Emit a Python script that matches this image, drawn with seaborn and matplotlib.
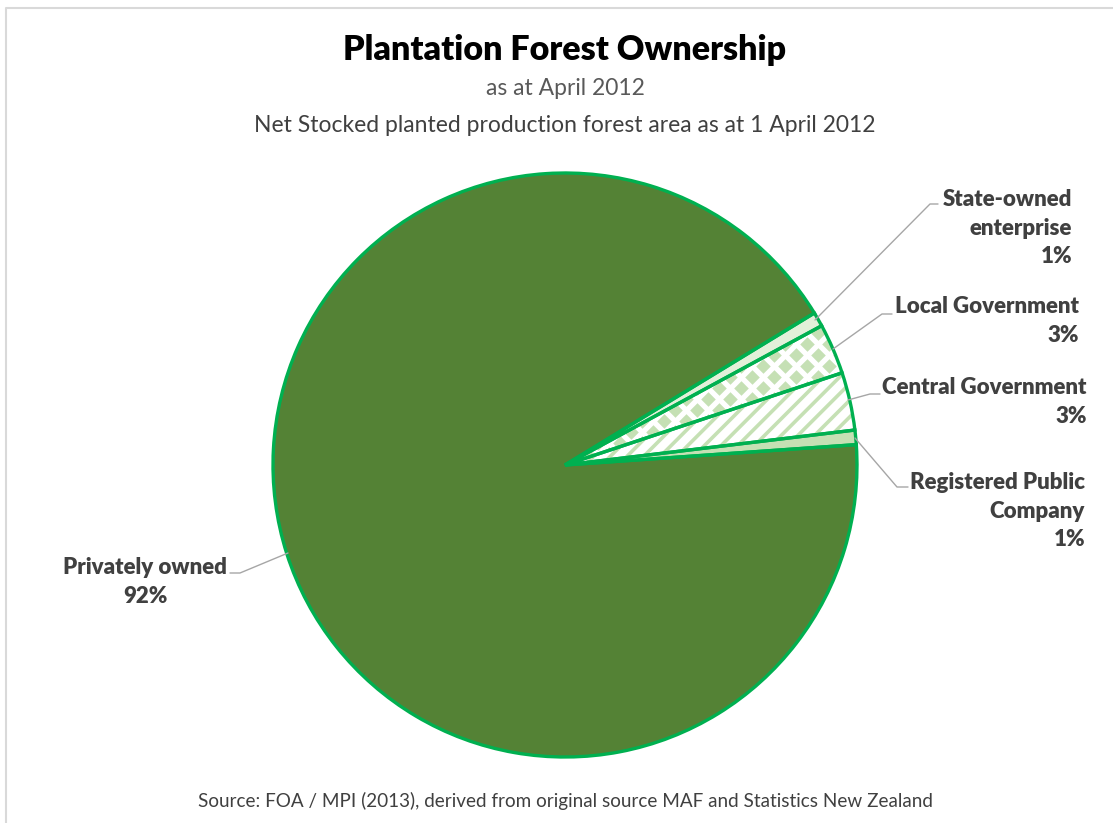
import numpy as np
import seaborn as sns
import matplotlib.pyplot as plt
from matplotlib.patches import Wedge

# Data
categories = ['Privately owned', 'State-owned\nenterprise', 'Local Government',
              'Central Government', 'Registered Public\nCompany']
shares = [92.4, 0.8, 2.8, 3.2, 0.8]

sns.set_style('white')
plt.rcParams['font.family'] = ['Lato', 'DejaVu Sans']
plt.rcParams['hatch.linewidth'] = 2.6

W, H = 1113, 823
fig = plt.figure(figsize=(W / 100, H / 100), dpi=100)
ax = fig.add_axes([0, 0, 1, 1])

# pixel coords (y measured from the top of the image)
def px(x, y):
    return x, H - y

cx, cy = px(565, 465)
R = 292
edge_green = '#00B050'
light = '#C5E0B4'
fills = ['#548235', '#E2F0D9', 'white', 'white', light]

# fills
wedges, _ = ax.pie(shares, colors=fills, startangle=4.0, counterclock=False,
                   center=(cx, cy), radius=R, wedgeprops={'linewidth': 0})

# diamond pattern for Local Government
local = wedges[2]
gx, gy = np.meshgrid(np.arange(cx - 11, cx + R + 22, 22), np.arange(cy - 22, cy + R * 0.6, 22))
gx = np.concatenate([gx.ravel(), gx.ravel() + 11])
gy = np.concatenate([gy.ravel(), gy.ravel() + 11])
dots = ax.scatter(gx, gy, marker='D', s=55, color=light, linewidths=0, zorder=3)
dots.set_clip_path(local)

# diagonal hatch for Central Government
cen = wedges[3]
ax.add_patch(Wedge((cx, cy), R, cen.theta1, cen.theta2, facecolor='none',
                   edgecolor=light, hatch='//', linewidth=0, zorder=3))

# outlines on top
outl, _ = ax.pie(shares, startangle=4.0, counterclock=False, center=(cx, cy), radius=R,
                 wedgeprops={'fill': False, 'edgecolor': edge_green, 'linewidth': 2.4})
for w in outl:
    w.set_zorder(4)

ax.set_xlim(0, W)
ax.set_ylim(0, H)
ax.set_aspect('auto')
ax.axis('off')

# labels with leader lines
lab_color = '#404040'
lead = '#A6A6A6'
pct = [f'{round(v / sum(shares) * 100):.0f}%' for v in shares]

leaders = [
    [(288, 553), (240, 573), (230, 573)],
    [(815, 320), (930, 204), (938, 204)],
    [(833, 349), (882, 314), (892, 314)],
    [(848, 400), (870, 394), (880, 394)],
    [(855, 438), (897, 487), (908, 487)],
]
for pts in leaders:
    xs, ys = zip(*[px(x, y) for x, y in pts])
    ax.plot(xs, ys, color=lead, lw=1, zorder=5)

label_pos = [(145, 582, 'center'), (1072, 228, 'right'), (1079, 321, 'right'),
             (1087, 402, 'right'), (1085, 511, 'right')]
for cat, p, (x, y, ha) in zip(categories, pct, label_pos):
    ax.text(*px(x, y), f'{cat}\n{p}', ha=ha, va='center', ma=ha,
            fontsize=16, fontweight='heavy', color=lab_color, linespacing=1.45)

# titles
ax.text(*px(565, 50), 'Plantation Forest Ownership', ha='center', va='center',
        fontsize=24.5, fontweight='heavy', color='black')
ax.text(*px(565, 88), 'as at April 2012', ha='center', va='center',
        fontsize=16.5, color='#595959')
ax.text(*px(565, 125), 'Net Stocked planted production forest area as at 1 April 2012',
        ha='center', va='center', fontsize=16.5, color='#404040')
ax.text(*px(565, 801), 'Source: FOA / MPI (2013), derived from original source MAF and Statistics New Zealand',
        ha='center', va='center', fontsize=13.6, color='#404040')

# chart border
ax.plot([6, 6, W], [0, H - 8, H - 8], color='#D9D9D9', lw=1.5, zorder=1)

fig.savefig('out.png', dpi=100)
